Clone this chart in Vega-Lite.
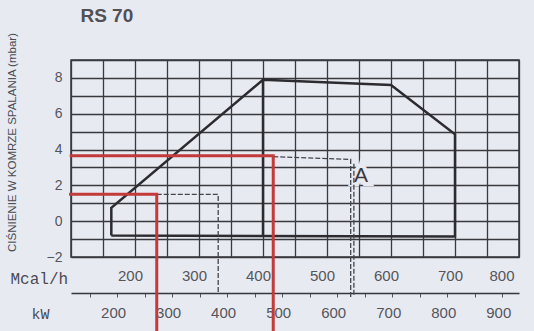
{
  "$schema": "https://vega.github.io/schema/vega-lite/v6.json",
  "width": 448,
  "height": 197,
  "autosize": {"type": "none"},
  "padding": {"left": 71, "top": 60, "right": 15, "bottom": 74},
  "background": "#e8eaf1",
  "datasets": {
    "field": [
      {"s": "outline", "o": 1, "m": 163, "p": -0.8},
      {"s": "outline", "o": 2, "m": 163, "p": 0.75},
      {"s": "outline", "o": 3, "m": 400, "p": 7.9},
      {"s": "outline", "o": 4, "m": 600, "p": 7.6},
      {"s": "outline", "o": 5, "m": 700, "p": 4.85},
      {"s": "outline", "o": 6, "m": 700, "p": -0.85},
      {"s": "outline", "o": 7, "m": 163, "p": -0.8},
      {"s": "inner", "o": 1, "m": 400, "p": 7.9},
      {"s": "inner", "o": 2, "m": 400, "p": -0.8}
    ],
    "red": [
      {"s": "r1", "o": 1, "m": 98, "p": 3.65},
      {"s": "r1", "o": 2, "m": 416, "p": 3.65},
      {"s": "r1", "o": 3, "m": 416, "p": -7.5},
      {"s": "r2", "o": 1, "m": 97, "p": 1.5},
      {"s": "r2", "o": 2, "m": 234, "p": 1.5},
      {"s": "r2", "o": 3, "m": 234, "p": -7.5}
    ],
    "dashed": [
      {"s": "d1", "o": 1, "m": 234, "p": 1.5},
      {"s": "d1", "o": 2, "m": 330, "p": 1.5},
      {"s": "d1", "o": 3, "m": 330, "p": -3.95},
      {"s": "d2", "o": 1, "m": 416, "p": 3.6},
      {"s": "d2", "o": 2, "m": 537, "p": 3.45},
      {"s": "d2", "o": 3, "m": 537, "p": -4.3},
      {"s": "d3", "o": 1, "m": 542, "p": 3.2},
      {"s": "d3", "o": 2, "m": 542, "p": -4.2}
    ],
    "labelA": [{"m": 553, "p": 2.5, "t": "A"}],
    "heads": [
      {"m": 156, "p": 11.12, "t": "RS 70"},
      {"m": 122, "p": -6.85, "t": "RS 100"}
    ],
    "kw": [{"kw": 500, "p": 0}]
  },
  "layer": [
    {
      "layer": [
        {
          "data": {"name": "field"},
          "mark": {"type": "line", "color": "#2b2b30", "strokeWidth": 2.5, "clip": false, "strokeJoin": "miter"},
          "encoding": {
            "x": {
              "field": "m", "type": "quantitative",
              "scale": {"domain": [100, 800], "nice": false, "zero": false},
              "axis": {
                "values": [100, 150, 200, 250, 300, 350, 400, 450, 500, 550, 600, 650, 700, 750, 800],
                "tickCount": 100, "format": "d",
                "grid": true, "ticks": false, "tickSize": 0, "domain": false, "labelOverlap": false,
                "labelExpr": "datum.value % 100 == 0 && datum.value > 100 ? datum.label : ''",
                "labelPadding": 11, "labelFontSize": 15, "labelOffset": -5, "labelBaseline": "top",
                "title": "Mcal/h", "titleX": -61, "titleY": 26, "titleAlign": "left", "titleBaseline": "alphabetic",
                "titleFont": "Liberation Mono", "titleFontSize": 16, "titleFontWeight": "normal"
              }
            },
            "y": {
              "field": "p", "type": "quantitative",
              "scale": {"domain": [-2, 9], "nice": false, "zero": false},
              "axis": {
                "values": [-2, -1, 0, 1, 2, 3, 4, 5, 6, 7, 8, 9],
                "tickCount": 100, "format": "d",
                "grid": true, "ticks": false, "tickSize": 0, "domain": false, "labelOverlap": false,
                "labelExpr": "datum.value % 2 == 0 ? datum.label : ''",
                "labelPadding": 9, "labelFontSize": 14,
                "title": "CIŚNIENIE W KOMRZE SPALANIA (mbar)",
                "titleX": -59, "titleY": 82, "titleAngle": -90, "titleAlign": "center", "titleBaseline": "middle",
                "titleFont": "Liberation Sans", "titleFontSize": 11.5, "titleFontWeight": "normal"
              }
            },
            "detail": {"field": "s"},
            "order": {"field": "o", "type": "quantitative"}
          }
        },
        {
          "data": {"name": "labelA"},
          "mark": {"type": "text", "font": "Liberation Sans", "fontSize": 21, "color": "#e8eaf1", "stroke": "#e8eaf1", "strokeWidth": 8, "baseline": "middle", "clip": false},
          "encoding": {
            "x": {"field": "m", "type": "quantitative"},
            "y": {"field": "p", "type": "quantitative"},
            "text": {"field": "t"}
          }
        },
        {
          "data": {"name": "dashed"},
          "mark": {"type": "line", "color": "#45454c", "strokeWidth": 1.3, "strokeDash": [5, 2], "clip": false},
          "encoding": {
            "x": {"field": "m", "type": "quantitative"},
            "y": {"field": "p", "type": "quantitative"},
            "detail": {"field": "s"},
            "order": {"field": "o", "type": "quantitative"}
          }
        },
        {
          "data": {"name": "red"},
          "mark": {"type": "line", "color": "#c23a3a", "strokeWidth": 3, "clip": false, "strokeJoin": "miter"},
          "encoding": {
            "x": {"field": "m", "type": "quantitative"},
            "y": {"field": "p", "type": "quantitative"},
            "detail": {"field": "s"},
            "order": {"field": "o", "type": "quantitative"}
          }
        },
        {
          "data": {"name": "labelA"},
          "mark": {"type": "text", "font": "Liberation Sans", "fontSize": 21, "color": "#3a3a40", "baseline": "middle", "clip": false},
          "encoding": {
            "x": {"field": "m", "type": "quantitative"},
            "y": {"field": "p", "type": "quantitative"},
            "text": {"field": "t"}
          }
        },
        {
          "data": {"name": "heads"},
          "mark": {"type": "text", "font": "Liberation Sans", "fontSize": 19, "fontWeight": "bold", "color": "#505055", "baseline": "alphabetic", "clip": false},
          "encoding": {
            "x": {"field": "m", "type": "quantitative"},
            "y": {"field": "p", "type": "quantitative"},
            "text": {"field": "t"}
          }
        }
      ]
    },
    {
      "data": {"name": "kw"},
      "mark": {"type": "point", "opacity": 0},
      "encoding": {
        "x": {
          "field": "kw", "type": "quantitative",
          "scale": {"domain": [116.3, 930.4], "nice": false, "zero": false},
          "axis": {
            "orient": "bottom", "offset": 36,
            "values": [150, 200, 250, 300, 350, 400, 450, 500, 550, 600, 650, 700, 750, 800, 850, 900],
            "tickCount": 100, "format": "d",
            "labelExpr": "datum.value % 100 == 0 ? datum.label : ''", "labelOverlap": false,
            "grid": false, "domain": true, "domainColor": "#35353d", "domainWidth": 1.5,
            "ticks": true, "tickSize": 4, "tickColor": "#55555c", "tickWidth": 1,
            "labelPadding": 8, "labelFontSize": 15, "labelOffset": -4, "labelFlush": false, "labelBaseline": "top",
            "title": "kW", "titleX": -40, "titleY": 25, "titleAlign": "left", "titleBaseline": "alphabetic",
            "titleFont": "Liberation Mono", "titleFontSize": 15, "titleFontWeight": "normal"
          }
        },
        "y": {"field": "p", "type": "quantitative"}
      }
    }
  ],
  "resolve": {"scale": {"x": "independent"}, "axis": {"x": "independent"}},
  "config": {
    "view": {"stroke": "#35353d", "strokeWidth": 1.5},
    "axis": {
      "gridColor": "#38383f", "gridWidth": 1.3, "gridOpacity": 1,
      "labelColor": "#55555c", "labelFont": "Liberation Sans",
      "titleColor": "#4a4a52", "titleFont": "Liberation Sans"
    }
  }
}
